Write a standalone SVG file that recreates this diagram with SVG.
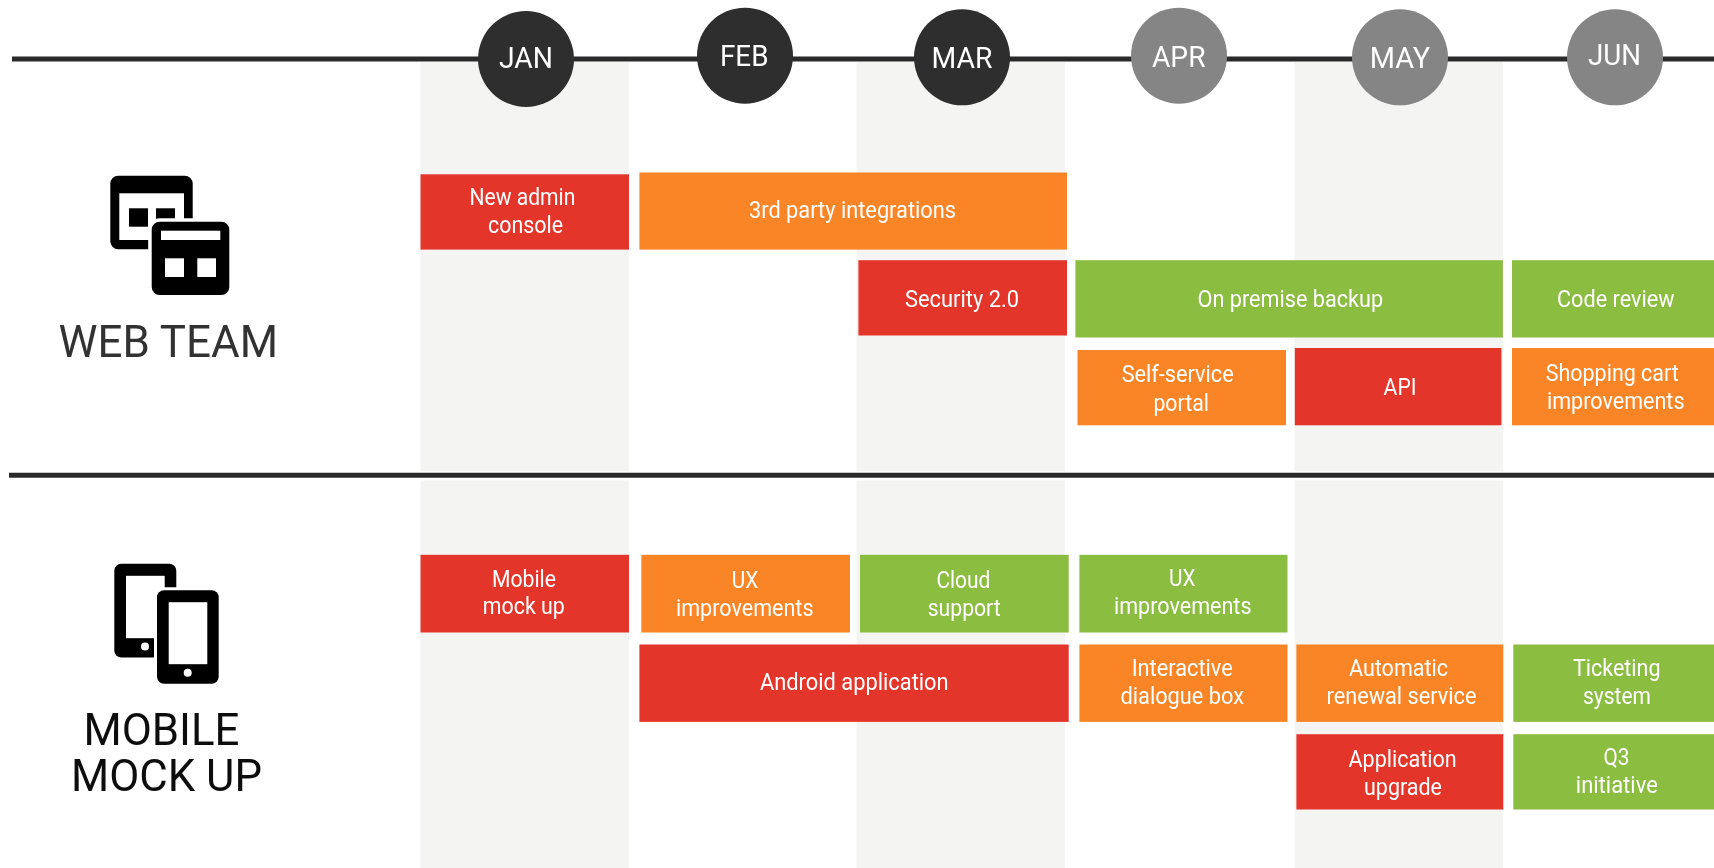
<svg xmlns="http://www.w3.org/2000/svg" width="1714" height="868" viewBox="0 0 1714 868">
<style>
.band{fill:#f4f4f2}
.line{stroke:#2b2b2b;stroke-width:5;fill:none}
.dark{fill:#2e2e2e}
.gray{fill:#858585}
.r{fill:#e4352b}
.o{fill:#fa8525}
.g{fill:#8bbd41}
text{font-family:Roboto,"Liberation Sans",sans-serif}
.t{fill:#fff;font-size:24px}
.m{fill:#fff;font-size:29px}
.lab{font-size:44px}
.ink{fill:#000}
.paper{fill:#fff}
.halo{fill:#000;stroke:#fff;stroke-width:7;paint-order:stroke}
</style>
<defs>
<filter id="soft" filterUnits="userSpaceOnUse" x="-10" y="-10" width="1734" height="888"><feGaussianBlur stdDeviation="0.45"/></filter>
</defs>
<rect width="1714" height="868" fill="#fff"/>
<g filter="url(#soft)">
<g id="bands">
<rect class="band" x="420.5" y="62" width="208.5" height="409"/>
<rect class="band" x="420.5" y="480.5" width="208.5" height="395"/>
<rect class="band" x="856.5" y="62" width="208.5" height="409"/>
<rect class="band" x="856.5" y="480.5" width="208.5" height="395"/>
<rect class="band" x="1294.5" y="62" width="208.5" height="409"/>
<rect class="band" x="1294.5" y="480.5" width="208.5" height="395"/>
</g>
<g id="connectors">
<line class="line" x1="12" y1="59" x2="1722" y2="59"/>
<line class="line" x1="9" y1="475.3" x2="1722" y2="475.3"/>
</g>
<g id="month-jan"><circle class="dark" cx="526" cy="59" r="48"/><text class="m" x="499" y="68.3" textLength="54" lengthAdjust="spacingAndGlyphs">JAN</text></g>
<g id="month-feb"><circle class="dark" cx="745" cy="55.7" r="48"/><text class="m" x="720" y="66" textLength="48.5" lengthAdjust="spacingAndGlyphs">FEB</text></g>
<g id="month-mar"><circle class="dark" cx="962" cy="57.3" r="48"/><text class="m" x="931.5" y="68.3" textLength="61" lengthAdjust="spacingAndGlyphs">MAR</text></g>
<g id="month-apr"><circle class="gray" cx="1179" cy="55.7" r="48"/><text class="m" x="1152" y="66.7" textLength="53.5" lengthAdjust="spacingAndGlyphs">APR</text></g>
<g id="month-may"><circle class="gray" cx="1400" cy="57.3" r="48"/><text class="m" x="1369.7" y="68.3" textLength="60.4" lengthAdjust="spacingAndGlyphs">MAY</text></g>
<g id="month-jun"><circle class="gray" cx="1615" cy="57.3" r="48"/><text class="m" x="1588" y="65" textLength="53" lengthAdjust="spacingAndGlyphs">JUN</text></g>

<g id="team-web">
<rect class="ink" x="110.3" y="175.7" width="82.4" height="73.6" rx="8"/>
<rect class="paper" x="119.3" y="193.3" width="64.7" height="46.7"/>
<rect class="ink" x="129" y="208.3" width="19" height="18.4"/>
<rect class="ink" x="156" y="208.3" width="19" height="18.4"/>
<rect class="halo" x="151.7" y="221.7" width="77.6" height="73.3" rx="8"/>
<rect class="paper" x="161" y="230.7" width="59.3" height="9.3"/>
<rect class="paper" x="165" y="258.3" width="19" height="18.7"/>
<rect class="paper" x="197.3" y="258.3" width="18.7" height="18.7"/>
<text class="lab" x="58.5" y="356.7" fill="#333" textLength="219.5" lengthAdjust="spacingAndGlyphs">WEB TEAM</text>
</g>
<g id="team-mobile">
<rect class="ink" x="114.3" y="563.8" width="62" height="93.7" rx="7"/>
<rect class="paper" x="126" y="575.8" width="38.7" height="62.4"/>
<circle class="paper" cx="145" cy="646.5" r="4"/>
<rect class="halo" x="157" y="590.2" width="61.7" height="93.6" rx="7" style="stroke-width:6"/>
<rect class="paper" x="168.7" y="602.2" width="38.6" height="62"/>
<circle class="paper" cx="187.7" cy="672.8" r="4"/>
<text class="lab" x="83.5" y="745" fill="#111" textLength="156" lengthAdjust="spacingAndGlyphs">MOBILE</text>
<text class="lab" x="71" y="791" fill="#111" textLength="191" lengthAdjust="spacingAndGlyphs">MOCK UP</text>
</g>

<g id="task-new-admin"><rect class="r" x="420.5" y="174.3" width="208.5" height="75.3"/><text class="t" x="469.4" y="205" textLength="106" lengthAdjust="spacingAndGlyphs">New admin</text><text class="t" x="488" y="233" textLength="75" lengthAdjust="spacingAndGlyphs">console</text></g>
<g id="task-3rd-party"><rect class="o" x="639.4" y="172.5" width="427.6" height="77.1"/><text class="t" x="749" y="218" textLength="207" lengthAdjust="spacingAndGlyphs">3rd party integrations</text></g>
<g id="task-security"><rect class="r" x="858.4" y="260.2" width="208.6" height="75.3"/><text class="t" x="905" y="307" textLength="114" lengthAdjust="spacingAndGlyphs">Security 2.0</text></g>
<g id="task-backup"><rect class="g" x="1075.4" y="260.2" width="427.5" height="77.3"/><text class="t" x="1197.6" y="307" textLength="185.5" lengthAdjust="spacingAndGlyphs">On premise backup</text></g>
<g id="task-code-review"><rect class="g" x="1512" y="260.2" width="210" height="77.3"/><text class="t" x="1557" y="307" textLength="117.5" lengthAdjust="spacingAndGlyphs">Code review</text></g>
<g id="task-self-service"><rect class="o" x="1077.5" y="350" width="208.5" height="75.3"/><text class="t" x="1121.7" y="382" textLength="112" lengthAdjust="spacingAndGlyphs">Self-service</text><text class="t" x="1153.4" y="411" textLength="55.5" lengthAdjust="spacingAndGlyphs">portal</text></g>
<g id="task-api"><rect class="r" x="1294.8" y="348" width="206.6" height="77.3"/><text class="t" x="1383.6" y="395" textLength="33" lengthAdjust="spacingAndGlyphs">API</text></g>
<g id="task-shopping"><rect class="o" x="1512" y="348" width="210" height="77.3"/><text class="t" x="1545.8" y="381" textLength="133" lengthAdjust="spacingAndGlyphs">Shopping cart</text><text class="t" x="1547" y="409" textLength="137.5" lengthAdjust="spacingAndGlyphs">improvements</text></g>

<g id="task-mobile"><rect class="r" x="420.5" y="554.8" width="208.5" height="77.7"/><text class="t" x="492" y="586.7" textLength="64" lengthAdjust="spacingAndGlyphs">Mobile</text><text class="t" x="482.8" y="614" textLength="82" lengthAdjust="spacingAndGlyphs">mock up</text></g>
<g id="task-ux-1"><rect class="o" x="641.3" y="554.8" width="208.7" height="77.7"/><text class="t" x="731.7" y="588" textLength="26.5" lengthAdjust="spacingAndGlyphs">UX</text><text class="t" x="676" y="616" textLength="137.5" lengthAdjust="spacingAndGlyphs">improvements</text></g>
<g id="task-cloud"><rect class="g" x="860" y="554.8" width="208.7" height="77.7"/><text class="t" x="936.4" y="588" textLength="54" lengthAdjust="spacingAndGlyphs">Cloud</text><text class="t" x="927.7" y="616" textLength="73" lengthAdjust="spacingAndGlyphs">support</text></g>
<g id="task-ux-2"><rect class="g" x="1079.4" y="554.8" width="208.1" height="77.7"/><text class="t" x="1169" y="586" textLength="26.5" lengthAdjust="spacingAndGlyphs">UX</text><text class="t" x="1114" y="614" textLength="137.5" lengthAdjust="spacingAndGlyphs">improvements</text></g>
<g id="task-android"><rect class="r" x="639.4" y="644.5" width="429.3" height="77.4"/><text class="t" x="760" y="690" textLength="188.6" lengthAdjust="spacingAndGlyphs">Android application</text></g>
<g id="task-interactive"><rect class="o" x="1079.4" y="644.5" width="208.1" height="77.4"/><text class="t" x="1131.7" y="676" textLength="101" lengthAdjust="spacingAndGlyphs">Interactive</text><text class="t" x="1120.5" y="704" textLength="123.5" lengthAdjust="spacingAndGlyphs">dialogue box</text></g>
<g id="task-renewal"><rect class="o" x="1296.4" y="644.5" width="206.9" height="77.4"/><text class="t" x="1349" y="676" textLength="99" lengthAdjust="spacingAndGlyphs">Automatic</text><text class="t" x="1326.5" y="704" textLength="150" lengthAdjust="spacingAndGlyphs">renewal service</text></g>
<g id="task-ticketing"><rect class="g" x="1513.3" y="644.5" width="208.7" height="77.4"/><text class="t" x="1573" y="676" textLength="87.5" lengthAdjust="spacingAndGlyphs">Ticketing</text><text class="t" x="1583" y="704" textLength="68" lengthAdjust="spacingAndGlyphs">system</text></g>
<g id="task-upgrade"><rect class="r" x="1296.4" y="734.2" width="206.9" height="75.3"/><text class="t" x="1348.6" y="766.7" textLength="108" lengthAdjust="spacingAndGlyphs">Application</text><text class="t" x="1364" y="795" textLength="78" lengthAdjust="spacingAndGlyphs">upgrade</text></g>
<g id="task-q3"><rect class="g" x="1513.3" y="734.2" width="208.7" height="75.3"/><text class="t" x="1603.4" y="765" textLength="26" lengthAdjust="spacingAndGlyphs">Q3</text><text class="t" x="1575.8" y="793" textLength="82" lengthAdjust="spacingAndGlyphs">initiative</text></g>
</g>
</svg>
